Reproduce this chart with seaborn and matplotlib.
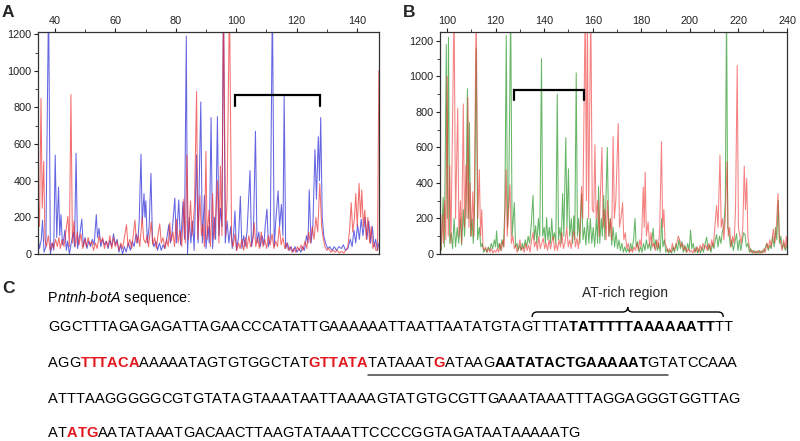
import matplotlib
matplotlib.use("Agg")
import matplotlib.pyplot as plt
import pandas as pd
import seaborn as sns
from matplotlib.path import Path
from matplotlib.patches import PathPatch
from matplotlib.ticker import MultipleLocator

# ---------------- data: panel A (size in bases, signal in RFU) ----------------
a_blue_x = [34.4, 34.9, 35.5, 35.9, 36.4, 37.0, 37.9, 38.5, 39.2, 39.6, 40.1, 40.6, 41.2, 41.6, 42.0, 42.5,
            43.0, 43.3, 43.8, 44.2, 44.8, 45.4, 46.1, 46.5, 47.0, 47.5, 48.2, 48.9, 49.4, 50.0, 50.6, 51.2,
            51.8, 52.4, 53.0, 53.7, 54.1, 54.6, 55.2, 55.8, 56.4, 57.0, 57.6, 58.2, 58.8, 59.4, 60.0, 60.6,
            61.2, 61.8, 62.4, 63.0, 63.6, 64.3, 65.0, 65.6, 66.2, 66.9, 67.4, 67.9, 68.5, 68.9, 69.5, 69.8,
            70.1, 70.6, 71.2, 71.8, 72.3, 72.8, 73.4, 74.0, 74.6, 75.2, 75.8, 76.4, 77.0, 77.7, 78.2, 78.8,
            79.7, 80.2, 81.0, 81.6, 82.4, 82.9, 83.5, 83.9, 84.5, 85.0, 85.6, 86.1, 86.9, 87.4, 88.3, 88.8,
            89.5, 90.0, 90.7, 91.1, 91.7, 92.2, 92.8, 93.2, 93.8, 94.3, 94.8, 95.3, 95.8, 96.4, 97.0, 97.6,
            98.2, 98.7, 99.2, 99.6, 100.1, 100.8, 101.4, 101.9, 102.5, 103.0, 103.6, 104.6, 105.1, 105.7,
            106.4, 106.9, 107.5, 108.0, 108.6, 109.2, 109.6, 110.2, 110.7, 111.3, 112.0, 112.6, 113.2, 113.9,
            114.4, 115.0, 115.5, 115.9, 116.4, 117.0, 117.6, 118.2, 118.8, 119.5, 120.1, 120.8, 121.4, 122.0,
            122.6, 123.3, 123.8, 124.2, 124.8, 125.4, 126.1, 126.6, 127.2, 127.6, 128.0, 128.5, 129.0, 129.6,
            130.3, 131.0, 131.8, 132.5, 133.2, 134.0, 134.8, 135.5, 136.2, 137.0, 137.8, 138.4, 139.0, 139.6,
            140.2, 140.8, 141.4, 142.0, 142.7, 143.3, 143.9, 144.5, 145.1, 145.7, 146.2, 146.8, 147.3]
a_blue_y = [90, 30, 80, 185, 10, 40, 1400, 0, 60, 20, 540, 90, 365, 100, 215, 50,
            90, 130, 20, 70, 0, 60, 120, 40, 550, 30, 100, 190, 40, 90, 30, 70,
            40, 80, 50, 215, 90, 140, 40, 80, 50, 70, 30, 75, 40, 110, 50, 80,
            10, 50, 0, 40, 10, 60, 20, 70, 40, 110, 60, 180, 545, 170, 330, 200,
            290, 60, 150, 440, 70, 40, 70, 20, 60, 20, 50, 30, 80, 160, 60, 120,
            305, 60, 295, 50, 285, 80, 1190, 0, 200, 60, 180, 20, 540, 60, 830, 60,
            320, 30, 150, 60, 745, 30, 200, 80, 750, 100, 250, 150, 1400, 60, 180, 60,
            150, 30, 120, 235, 20, 90, 315, 30, 100, 40, 120, 455, 40, 100,
            670, 60, 120, 40, 100, 50, 150, 245, 40, 80, 1400, 40, 200, 345,
            150, 270, 100, 860, 30, 60, 20, 40, 10, 40, 10, 30, 10, 40,
            20, 100, 60, 350, 60, 150, 570, 300, 640, 400, 745, 200, 100, 60,
            30, 40, 20, 40, 20, 40, 30, 50, 20, 30, 80, 40, 130, 60,
            160, 80, 190, 100, 200, 80, 180, 60, 150, 40, 80, 20, 60]

a_red_x = [34.4, 34.9, 35.4, 35.8, 36.3, 36.7, 37.2, 37.8, 38.4, 39.0, 39.6, 40.2, 40.8, 41.3, 41.8, 42.4,
           43.0, 43.6, 44.3, 44.8, 45.3, 45.8, 46.3, 46.8, 47.4, 48.0, 48.6, 49.2, 49.8, 50.4, 51.0, 51.6,
           52.2, 52.8, 53.4, 54.0, 54.6, 55.2, 55.8, 56.4, 57.0, 57.6, 58.2, 58.8, 59.4, 60.0, 60.6, 61.2,
           61.8, 62.4, 63.0, 63.7, 64.2, 64.8, 65.4, 66.0, 66.5, 67.0, 67.6, 68.1, 68.9, 69.4, 70.0, 70.5,
           71.0, 71.9, 72.4, 73.0, 73.6, 74.1, 74.7, 75.2, 75.8, 76.4, 77.0, 77.5, 78.0, 78.5, 79.1, 79.6,
           80.2, 80.8, 81.4, 82.0, 82.7, 83.2, 83.7, 84.2, 84.9, 85.4, 86.2, 86.9, 87.3, 88.0, 88.5, 89.0,
           89.5, 90.0, 90.4, 91.0, 91.5, 92.2, 92.7, 93.3, 93.8, 94.3, 94.8, 95.3, 95.8, 96.5, 97.0, 97.8,
           98.5, 99.0, 99.6, 100.2, 100.8, 101.3, 101.9, 102.5, 103.1, 103.6, 104.2, 104.8, 105.4, 106.0,
           106.5, 107.1, 107.7, 108.3, 108.9, 109.5, 110.1, 110.7, 111.3, 111.9, 112.5, 113.1, 113.7, 114.3,
           114.9, 115.5, 116.1, 116.7, 117.3, 117.9, 118.5, 119.1, 119.7, 120.3, 120.9, 121.5, 122.1, 122.8,
           123.4, 124.0, 124.6, 125.2, 125.8, 126.4, 127.0, 127.7, 128.3, 128.8, 129.4, 130.0, 130.7, 131.4,
           132.1, 132.8, 133.5, 134.2, 134.9, 135.6, 136.3, 137.0, 137.6, 138.1, 138.6, 139.2, 139.6, 140.1,
           140.7, 141.2, 141.6, 142.1, 142.6, 143.1, 143.6, 144.2, 144.7, 145.3, 145.8, 146.3, 146.8, 147.25]
a_red_y = [320, 150, 850, 250, 505, 80, 40, 100, 20, 60, 30, 80, 40, 90, 30, 80,
           40, 120, 205, 40, 870, 60, 180, 40, 120, 50, 110, 30, 80, 40, 90, 50,
           70, 20, 60, 30, 100, 60, 90, 30, 70, 40, 100, 30, 90, 40, 70, 20,
           60, 30, 90, 160, 40, 80, 30, 110, 185, 60, 100, 40, 200, 80, 60, 100,
           40, 175, 50, 90, 30, 100, 165, 60, 90, 30, 80, 40, 170, 70, 120, 40,
           190, 60, 130, 40, 300, 60, 540, 80, 290, 100, 260, 887, 80, 320, 100, 160,
           40, 560, 80, 240, 40, 330, 80, 220, 400, 60, 480, 100, 1400, 100, 300, 1400,
           80, 40, 110, 20, 60, 30, 80, 20, 90, 30, 100, 40, 70, 170,
           40, 90, 30, 120, 40, 80, 30, 100, 50, 110, 30, 70, 40, 150,
           50, 90, 30, 60, 20, 40, 10, 30, 10, 40, 20, 50, 20, 70,
           30, 120, 60, 150, 80, 200, 120, 385, 150, 90, 40, 20, 30, 10,
           20, 10, 20, 5, 15, 5, 20, 40, 140, 280, 120, 200, 330, 150,
           385, 200, 350, 150, 240, 80, 200, 60, 150, 30, 60, 20, 20, 1000]

# ---------------- data: panel B ----------------
b_green_x = [97.1, 97.6, 98.4, 98.9, 99.7, 100.1, 100.6, 101.1, 101.7, 102.3, 102.9, 103.5, 104.2, 104.8,
             105.5, 106.0, 106.7, 107.2, 107.8, 108.4, 108.8, 109.2, 109.7, 110.3, 110.8, 111.4, 112.0,
             112.6, 113.3, 113.9, 114.5, 115.1, 115.8, 116.4, 117.0, 117.6, 118.2, 118.8, 119.5, 120.0,
             120.4, 120.9, 121.5, 122.0, 122.6, 123.2, 123.8, 124.4, 124.9, 125.4, 126.2, 126.8, 127.7,
             128.2, 128.8, 129.3, 129.9, 130.5, 131.0, 131.6, 132.2, 132.8, 133.4, 134.0, 134.6, 135.4,
             135.9, 136.5, 137.0, 137.6, 138.2, 138.9, 139.4, 140.0, 140.5, 141.0, 141.5, 142.1, 142.6,
             143.1, 143.6, 144.2, 144.8, 145.4, 145.9, 146.5, 147.0, 147.6, 148.1, 148.9, 149.4, 150.0,
             150.5, 151.2, 151.7, 152.2, 152.6, 153.2, 153.7, 154.2, 154.7, 155.4, 156.0, 156.6, 157.2,
             157.8, 158.4, 159.0, 159.6, 160.2, 160.8, 161.5, 162.0, 162.4, 162.9, 163.5, 164.0, 164.5,
             165.0, 166.0, 166.6, 167.2, 167.8, 168.4, 169.0, 169.6, 170.2, 170.8, 171.4, 172.0, 172.6,
             173.2, 173.8, 174.4, 175.0, 175.6, 176.2, 176.8, 177.4, 177.9, 178.5, 179.1, 179.7, 180.3,
             180.9, 181.5, 182.1, 182.7, 183.3, 183.9, 184.9, 185.4, 186.0, 186.6, 187.2, 187.8, 188.4,
             188.9, 189.5, 190.1, 190.7, 191.3, 191.9, 192.5, 193.1, 193.7, 194.3, 194.9, 195.5, 196.1,
             196.7, 197.3, 197.9, 198.5, 199.1, 199.7, 200.3, 200.8, 201.4, 202.0, 202.6, 203.2, 203.8,
             204.4, 205.0, 205.6, 206.3, 206.9, 207.5, 208.1, 208.7, 209.3, 209.9, 210.5, 211.0, 211.6,
             212.2, 212.8, 213.4, 214.0, 214.6, 215.1, 215.6, 216.1, 216.7, 217.3, 217.9, 218.5, 219.2,
             219.8, 220.4, 221.0, 221.6, 222.1, 222.7, 223.3, 223.9, 224.5, 225.1, 225.7, 226.3, 226.9,
             227.5, 228.1, 228.7, 229.3, 229.9, 230.5, 231.1, 231.7, 232.3, 232.9, 233.5, 234.1, 234.7,
             235.3, 235.8, 236.4, 236.9, 237.5, 238.1, 238.7, 239.3, 240.0]
b_green_y = [60, 20, 320, 40, 1180, 200, 1220, 60, 120, 30, 200, 40, 150, 60,
             200, 50, 250, 100, 300, 930, 200, 740, 100, 200, 60, 300, 1160,
             80, 150, 40, 60, 10, 30, 10, 40, 20, 60, 30, 80, 40,
             130, 30, 60, 20, 80, 40, 250, 1230, 150, 300, 1400, 100, 290,
             40, 60, 20, 50, 20, 60, 30, 80, 40, 100, 60, 150, 330,
             80, 160, 60, 200, 100, 1100, 100, 150, 60, 205, 80, 150, 60,
             200, 80, 120, 60, 900, 80, 150, 60, 340, 100, 655, 150, 480,
             100, 200, 60, 215, 80, 1020, 100, 200, 60, 340, 80, 150, 50,
             200, 60, 200, 60, 150, 40, 200, 60, 380, 60, 200, 100, 330,
             80, 600, 100, 200, 50, 150, 40, 120, 30, 80, 20, 60, 10,
             40, 10, 30, 10, 60, 20, 80, 200, 40, 70, 10, 40, 10,
             60, 20, 80, 30, 60, 20, 145, 30, 80, 20, 60, 10, 200,
             40, 80, 10, 30, 5, 20, 5, 40, 10, 60, 20, 80, 30,
             70, 10, 50, 10, 60, 20, 135, 30, 60, 10, 40, 5, 30,
             5, 40, 10, 60, 95, 20, 50, 10, 60, 30, 80, 110, 40,
             100, 60, 130, 150, 300, 1400, 150, 120, 40, 80, 20, 60, 115,
             20, 80, 20, 70, 120, 110, 40, 60, 10, 30, 5, 20, 5,
             15, 5, 20, 5, 20, 10, 40, 60, 20, 50, 30, 100, 40,
             150, 80, 300, 60, 100, 30, 60, 20, 50]

b_red_x = [97.1, 97.5, 98.0, 98.5, 99.0, 99.5, 100.0, 100.5, 101.1, 101.6, 102.9, 103.5, 104.4, 104.9,
           105.5, 106.0, 106.7, 107.2, 107.8, 108.2, 108.6, 109.0, 109.5, 110.0, 110.6, 111.1, 112.0,
           112.7, 113.3, 113.8, 114.3, 114.8, 115.3, 115.9, 116.5, 117.1, 117.7, 118.3, 118.9, 119.5,
           120.1, 120.7, 121.3, 121.8, 122.4, 123.0, 123.5, 124.3, 124.8, 125.9, 126.5, 127.1, 127.7,
           128.3, 128.9, 129.5, 130.0, 130.6, 131.2, 131.8, 132.4, 133.0, 133.6, 134.2, 134.8, 135.4,
           136.0, 136.6, 137.2, 137.8, 138.4, 139.0, 139.6, 140.2, 140.8, 141.4, 142.0, 142.6, 143.2,
           143.7, 144.3, 144.9, 145.5, 146.1, 146.7, 147.3, 147.9, 148.5, 149.3, 149.9, 150.5, 151.1,
           151.7, 152.3, 152.9, 153.5, 154.1, 154.7, 155.4, 155.9, 156.9, 157.4, 157.8, 158.3, 159.2,
           159.8, 160.4, 160.9, 161.4, 162.0, 162.6, 163.2, 163.8, 164.3, 164.9, 165.5, 166.1, 166.7,
           167.3, 167.8, 168.4, 168.9, 169.5, 170.5, 171.0, 171.6, 172.3, 172.8, 173.4, 174.0, 174.6,
           175.2, 175.8, 176.4, 177.0, 177.6, 178.2, 178.8, 179.4, 180.0, 180.8, 181.2, 181.6, 182.1,
           182.8, 183.4, 184.0, 184.6, 185.2, 185.8, 186.4, 187.0, 187.6, 188.3, 188.8, 189.3, 189.8,
           190.4, 191.0, 191.6, 192.2, 192.8, 193.4, 194.0, 194.6, 195.2, 195.8, 196.4, 197.0, 197.6,
           198.2, 198.8, 199.4, 200.0, 200.6, 201.2, 201.8, 202.4, 203.0, 203.6, 204.2, 204.8, 205.4,
           206.0, 206.6, 207.2, 207.8, 208.4, 209.0, 209.6, 210.3, 211.0, 211.6, 212.4, 212.9, 213.5,
           214.0, 214.6, 215.3, 215.8, 216.4, 217.0, 217.6, 218.2, 218.8, 219.5, 220.0, 220.6, 221.2,
           221.8, 222.4, 222.9, 223.4, 223.9, 224.5, 225.1, 225.7, 226.3, 226.9, 227.5, 228.1, 228.7,
           229.3, 229.9, 230.5, 231.1, 231.7, 232.3, 232.9, 233.5, 234.4, 235.0, 235.6, 236.3, 236.8,
           237.4, 238.0, 238.6, 239.2, 239.7, 240.0]
b_red_y = [80, 20, 220, 60, 300, 80, 1000, 100, 500, 60, 1400, 200, 820, 100,
           300, 60, 845, 150, 500, 200, 880, 150, 400, 100, 350, 100, 1400,
           200, 475, 100, 250, 40, 20, 40, 10, 30, 10, 30, 5, 20,
           10, 30, 10, 60, 20, 80, 40, 475, 100, 390, 60, 100, 30,
           50, 10, 40, 80, 20, 40, 10, 60, 20, 50, 10, 80, 120,
           40, 70, 20, 100, 30, 60, 90, 30, 60, 20, 80, 30, 70,
           100, 20, 60, 20, 80, 40, 120, 30, 60, 150, 40, 80, 30,
           100, 130, 40, 90, 30, 120, 380, 200, 1400, 300, 1400, 200, 1400,
           250, 235, 615, 200, 300, 100, 350, 600, 150, 250, 80, 300, 100,
           200, 80, 660, 200, 300, 735, 150, 200, 290, 80, 120, 30, 60,
           10, 30, 10, 40, 20, 60, 20, 80, 40, 377, 150, 462, 100,
           180, 50, 120, 40, 60, 20, 80, 30, 150, 632, 150, 250, 60,
           40, 10, 30, 10, 60, 20, 40, 60, 100, 80, 40, 60, 20,
           40, 10, 30, 10, 20, 5, 30, 10, 40, 10, 50, 20, 60,
           30, 50, 20, 60, 20, 80, 40, 150, 273, 150, 556, 150, 200,
           80, 200, 520, 100, 150, 40, 100, 60, 250, 1062, 150, 100, 60,
           150, 495, 250, 425, 100, 40, 10, 20, 5, 15, 5, 20, 5,
           15, 5, 30, 10, 60, 30, 80, 40, 141, 60, 150, 340, 100,
           60, 20, 80, 30, 100, 40]

# brackets marking the protected region: (start size, end size, top RFU, tick-end RFU)
bracket_a = (99.7, 127.9, 868, 810)
bracket_b = (127.5, 156.2, 926, 866)

# ---------------- panel C text ----------------
seq_title = [("P", "n"), ("ntnh-botA", "i"), (" sequence:", "n")]
seq_line1 = [("GGCTTTAGAGAGATTAGAACCCATATTGAAAAAATTAATTAATATGTAG", "n"), ("TTTA", "n"),
             ("TATTTTTAAAAAATT", "b"), ("TT", "n")]
seq_line2 = [("AGG", "n"), ("TTTACA", "r"), ("AAAAATAGTGTGGCTAT", "n"), ("GTTATA", "r"),
             ("TATAAAT", "n"), ("G", "r"), ("ATAAG", "n"), ("AATATACTGAAAAAT", "b"),
             ("GT", "n"), ("ATCCAAA", "n")]
seq_line3 = [("ATTTAAGGGGGCGTGTATAGTAAATAATTAAAAGTATGTGCGTTGAAATAAATTTAGGAGGGTGGTTAG", "n")]
seq_line4 = [("AT", "n"), ("ATG", "r"), ("AATATAAATGACAACTTAAGTATAAATTCCCCGGTAGATAATAAAAATG", "n")]
region_label = "AT-rich region"

# ---------------- drawing ----------------
sns.set_theme(style="ticks")
plt.rcParams['font.family'] = ['Liberation Sans', 'DejaVu Sans']

W, H = 800, 441
fig = plt.figure(figsize=(W / 100, H / 100), dpi=100)
fig.patch.set_facecolor("white")


def rect(l, t, r, b):
    return [l / W, 1 - b / H, (r - l) / W, (b - t) / H]


axA = fig.add_axes(rect(38, 32, 379, 254))
axB = fig.add_axes(rect(440, 32, 787, 254))


def trace(ax, xs, ys, color, alpha):
    df = pd.DataFrame({"size": xs, "rfu": ys})
    sns.lineplot(data=df, x="size", y="rfu", ax=ax, color=color, alpha=alpha,
                 lw=0.75, sort=False, estimator=None)


trace(axA, a_blue_x, a_blue_y, "#2a2ad8", 0.72)
trace(axA, a_red_x, a_red_y, "#ee2a2a", 0.68)
trace(axB, b_green_x, b_green_y, "#2c9a2c", 0.72)
trace(axB, b_red_x, b_red_y, "#ef3434", 0.62)


def style(ax, xlim, ylim):
    ax.set_xlim(*xlim)
    ax.set_ylim(*ylim)
    ax.set_xlabel("")
    ax.set_ylabel("")
    ax.xaxis.set_major_locator(MultipleLocator(20))
    ax.xaxis.set_minor_locator(MultipleLocator(10))
    ax.yaxis.set_major_locator(MultipleLocator(200))
    ax.yaxis.set_minor_locator(MultipleLocator(100))
    ax.tick_params(axis="x", which="both", top=True, labeltop=True, bottom=False, labelbottom=False)
    ax.tick_params(axis="both", which="major", length=3, width=0.8, direction="out",
                   labelsize=7.8, colors="#222222", pad=1.5)
    ax.tick_params(axis="both", which="minor", length=2, width=0.6, direction="out", colors="#222222")
    for s in ax.spines.values():
        s.set_visible(True)
        s.set_color("#333333")
        s.set_linewidth(0.9)


style(axA, (34.4, 147.3), (0, 1212))
style(axB, (97.1, 240), (0, 1250))


def bracket(ax, br):
    x0, x1, top, low = br
    ax.plot([x0, x0, x1, x1], [low, top, top, low], color="black", lw=1.6,
            solid_joinstyle="miter", zorder=5)


bracket(axA, bracket_a)
bracket(axB, bracket_b)

# overlay axes in pixel coordinates for labels and sequence text
ov = fig.add_axes([0, 0, 1, 1])
ov.set_xlim(0, W)
ov.set_ylim(H, 0)
ov.axis("off")
ov.patch.set_visible(False)

ov.text(2, 17, "A", fontsize=12.5, fontweight="bold", va="baseline", ha="left")
ov.text(403, 17, "B", fontsize=12.5, fontweight="bold", va="baseline", ha="left")
ov.text(2, 293, "C", fontsize=12.5, fontweight="bold", va="baseline", ha="left")

renderer = fig.canvas.get_renderer()


def seg_kw(kind, fs):
    kw = dict(fontsize=fs, va="baseline", ha="left", color="black")
    if kind == "b":
        kw["fontweight"] = "bold"
    elif kind == "r":
        kw["fontweight"] = "bold"
        kw["color"] = "#e3161c"
    elif kind == "i":
        kw["fontstyle"] = "italic"
    return kw


_wcache = {}


def width_of(s, kw):
    key = (s, kw.get("fontweight"), kw.get("fontstyle"), kw["fontsize"])
    if key not in _wcache:
        t = ov.text(0, 0, s, **kw)
        _wcache[key] = t.get_window_extent(renderer).width
        t.remove()
    return _wcache[key]


def write(x, y, segs, fs):
    """Typeset each glyph at its own advance position (no kerning)."""
    extents = []
    for txt, kind in segs:
        kw = seg_kw(kind, fs)
        x0 = x
        for ch in txt:
            if ch != " ":
                ov.text(x, y, ch, **kw)
            x += width_of(ch, kw)
        extents.append((x0, x))
    return extents


write(48, 302, seq_title, 10.4)
FS = 10.55
e1 = write(48, 331, seq_line1, FS)
e2 = write(48, 367, seq_line2, FS)
write(48, 403, seq_line3, FS)
write(48, 437, seq_line4, FS)

# underline in line 2
ov.plot([e2[4][0], e2[8][1]], [375, 375], color="#444444", lw=1.1)

# brace over the AT-rich region
bx0 = e1[1][0]
bx1 = e1[2][1] + (e1[3][1] - e1[3][0]) * 0.5
bm = (bx0 + bx1) / 2
ytip, ymid, ypk, r = 317, 312, 307, 5
verts = [(bx0, ytip), (bx0, ymid), (bx0 + r, ymid),
         (bm - r, ymid), (bm, ymid), (bm, ypk),
         (bm, ymid), (bm + r, ymid),
         (bx1 - r, ymid), (bx1, ymid), (bx1, ytip)]
codes = [Path.MOVETO, Path.CURVE3, Path.CURVE3,
         Path.LINETO, Path.CURVE3, Path.CURVE3,
         Path.CURVE3, Path.CURVE3,
         Path.LINETO, Path.CURVE3, Path.CURVE3]
ov.add_patch(PathPatch(Path(verts, codes), facecolor="none", edgecolor="black", lw=1.0))
ov.text(bm - 3, 297, region_label, fontsize=10, va="baseline", ha="center")

fig.savefig("out.png", dpi=100, facecolor="white")
